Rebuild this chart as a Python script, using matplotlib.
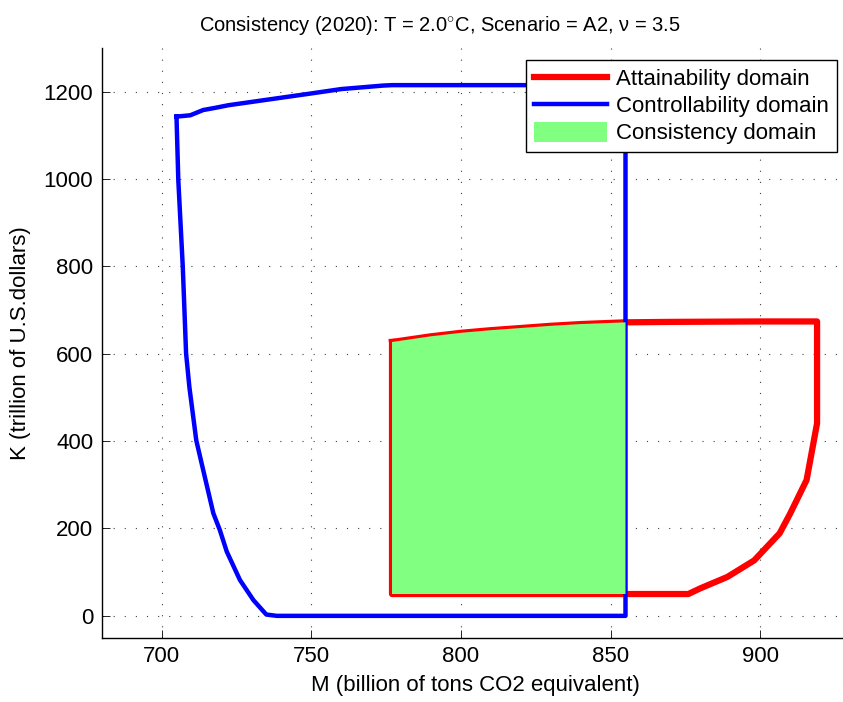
import matplotlib
matplotlib.use("Agg")
import matplotlib.pyplot as plt

plt.rcParams['font.family'] = ['Liberation Sans', 'DejaVu Sans']
plt.rcParams['mathtext.fontset'] = 'custom'
plt.rcParams['mathtext.rm'] = 'Liberation Sans'

# Controllability domain boundary (M in billion tons CO2, K in trillion $)
ctrl_m = [705, 705.6, 707.1, 708.2, 709.3, 711.6, 713.4, 717.3, 719.5, 721.8,
          726.2, 730.7, 735, 738.5, 855, 855, 777, 774, 760, 750, 722.3,
          717.9, 713.9, 709.6, 705]
ctrl_k = [1143, 998, 799, 601, 524, 402, 349, 235, 196, 147,
          82, 36, 3, 0, 0, 1215, 1215, 1214, 1206, 1196, 1169,
          1163, 1158, 1146, 1143]

# Attainability domain boundary
att_m = [777, 790, 800, 810, 820, 830, 840, 855, 870, 885, 900, 919,
         919, 915.5, 910, 906.5, 898, 889, 880, 876, 855, 777, 777]
att_k = [627, 640, 648, 654, 659, 664, 668, 672, 673, 673.5, 674, 674,
         441, 311, 234, 189, 127, 89, 63, 50, 50, 50, 627]

# Consistency domain = attainable states that are also controllable
cons_m = [777, 790, 800, 810, 820, 830, 840, 855, 855, 777]
cons_k = [627, 640, 648, 654, 659, 664, 668, 672, 50, 50]

xticks = [700, 750, 800, 850, 900]
yticks = [0, 200, 400, 600, 800, 1000, 1200]

fig = plt.figure(figsize=(8.43, 7.02), dpi=100)
ax = fig.add_axes([0.1206, 0.0916, 0.8877, 0.840])

att_line, = ax.plot(att_m, att_k, color='red', lw=4.5, solid_joinstyle='round',
                    label='Attainability domain', zorder=3)
ctrl_line, = ax.plot(ctrl_m, ctrl_k, color='blue', lw=3.2,
                     label='Controllability domain', zorder=4)
cons_fill = ax.fill(cons_m, cons_k, color='#80ff80', lw=0,
                    label='Consistency domain', zorder=5)[0]

ax.set_xlim(680, 930)
ax.set_ylim(-50, 1300)
ax.set_xticks(xticks)
ax.set_yticks(yticks)
ax.tick_params(direction='in', length=5.5, width=0.6, labelsize=16, pad=6)
ax.grid(True, color='0.25', lw=0.8, linestyle=(0, (1, 9)))
ax.set_axisbelow(True)
for side in ['top', 'right']:
    ax.spines[side].set_visible(False)
for side in ['left', 'bottom']:
    ax.spines[side].set_linewidth(1.0)

ax.set_xlabel('M (billion of tons CO2 equivalent)', fontsize=16, labelpad=6)
ax.set_ylabel('K (trillion of U.S.dollars)', fontsize=16, labelpad=9)
fig.text(440 / 843, 1 - 31 / 702,
         r'Consistency (2020): T = 2.0$^{\circ}$C, Scenario = A2, ν = 3.5',
         ha='center', va='baseline', fontsize=14.5)

leg = ax.legend(handles=[att_line, ctrl_line, cons_fill],
                loc='upper right', bbox_to_anchor=(836.7 / 843, 1 - 60 / 702),
                bbox_transform=fig.transFigure, fontsize=16, fancybox=False,
                framealpha=1, edgecolor='black', handlelength=3.3,
                handleheight=1.0, handletextpad=0.4, labelspacing=0.2,
                borderpad=0.35, borderaxespad=0)
leg.get_frame().set_linewidth(1.0)

fig.savefig('out.png', dpi=100)
